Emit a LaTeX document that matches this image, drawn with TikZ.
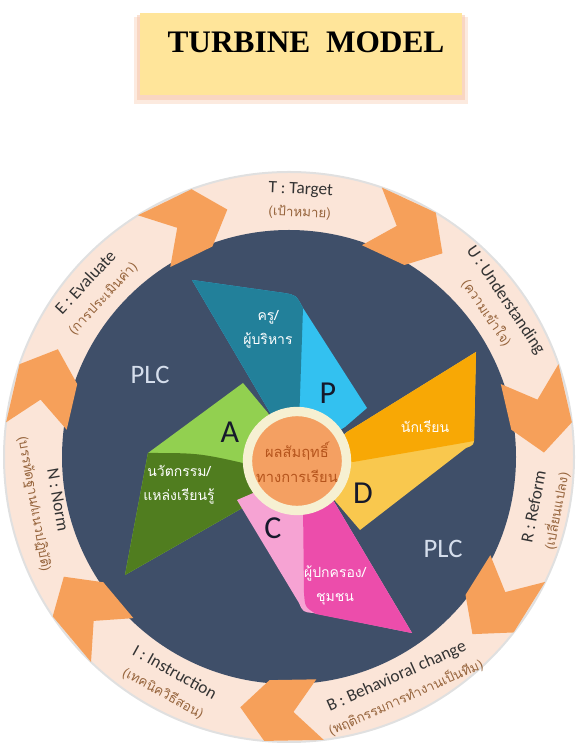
\documentclass[tikz,border=0pt]{standalone}
\usepackage{fontspec}
\setmainfont{Carlito}
\newfontfamily\thaifont[Script=Thai]{Loma}
\newfontfamily\titlefont{Liberation Serif}
\usetikzlibrary{calc}

\definecolor{titleyellow}{HTML}{FFE59A}
\definecolor{titleshadow}{HTML}{F6C2A4}
\definecolor{ringpeach}{HTML}{FBE5D8}
\definecolor{discblue}{HTML}{3F4F69}
\definecolor{arroworange}{HTML}{F6A05A}
\definecolor{ringgray}{HTML}{333333}
\definecolor{thaibrown}{HTML}{96643C}
\definecolor{plcblue}{HTML}{D5DEEC}
\definecolor{tealdark}{HTML}{22809A}
\definecolor{cyanlight}{HTML}{33C1F0}
\definecolor{greenlight}{HTML}{92D050}
\definecolor{greendark}{HTML}{507D1F}
\definecolor{pinklight}{HTML}{F6A3D3}
\definecolor{magenta}{HTML}{EC4DAB}
\definecolor{orangedark}{HTML}{F8A805}
\definecolor{yellowlight}{HTML}{F9C84E}
\definecolor{centerorange}{HTML}{F4A062}
\definecolor{centercream}{HTML}{F6F0D2}
\definecolor{centertext}{HTML}{B5541C}
\definecolor{lettercol}{HTML}{16192B}

\newcommand{\thaisub}[1]{{\thaifont\fontsize{10}{12}\selectfont\color{thaibrown}#1}}

\begin{document}
\begin{tikzpicture}[x=0.75pt, y=0.75pt,
  ringtext/.style={align=center, text=ringgray, font=\fontsize{13}{17}\selectfont},
  bladetext/.style={align=center, text=white, font=\thaifont\fontsize{10.5}{18}\selectfont},
  letter/.style={text=lettercol, font=\fontsize{24}{24}\selectfont},
  plc/.style={text=plcblue, font=\fontsize{20}{20}\selectfont}]
  \useasboundingbox (0,0) rectangle (575,745);

  % title box
  \fill[titleshadow, opacity=0.35] (134,641) rectangle (468,728);
  \fill[titleshadow, opacity=0.5] (137,645) rectangle (465,730);
  \fill[titleyellow] (140,650) rectangle (462,732);
  \node[anchor=base, font=\titlefont\bfseries\fontsize{23.5}{28}\selectfont] (title) at (306,692) {TURBINE\ \ MODEL};

  % ring, disc and arrows
  \begin{scope}[shift={(289,288)}]
    \fill[ringpeach] (0,0) circle (285);
    \draw[black!12, line width=1.5] (0,0) circle (285);
    \fill[discblue] (0,0) circle (227);
    \foreach \a in {113,62,10,-35,-92,-143,164}
      \fill[arroworange] (\a+9:285) -- (\a-3:285) -- (\a-9:255) -- (\a-3:224) -- (\a+9:224) -- (\a+3:255) -- cycle;

    \node[ringtext, rotate=-2.5] (lblT) at (87.5:256) {T : Target\\\thaisub{(เป้าหมาย)}};
    \node[ringtext, rotate=-56] (lblU) at (36:256) {U : Understanding\\\thaisub{(ความเข้าใจ)}};
    \node[ringtext, rotate=79] (lblR) at (-11.5:262) {R : Reform\\\thaisub{(เปลี่ยนแปลง)}};
    \node[ringtext, rotate=24] (lblB) at (-64:256) {B : Behavioral change\\\thaisub{(พฤติกรรมการทำงานเป็นทีม)}};
    \node[ringtext, rotate=-29] (lblI) at (-118:256) {I : Instruction\\\thaisub{(เทคนิควิธีสอน)}};
    \node[ringtext, rotate=-80] (lblN) at (-169.5:248) {N : Norm\\\thaisub{(บรรทัดฐาน/แนวปฏิบัติ)}};
    \node[ringtext, rotate=47] (lblE) at (139.5:256) {E : Evaluate\\\thaisub{(การประเมินค่า)}};
  \end{scope}

  \node[plc] (plcL) at (150,370) {PLC};
  \node[plc] (plcR) at (443,196) {PLC};

  % blade P
  \fill[cyanlight] (192,465) -- (284,452) .. controls (296,450) .. (303,437) -- (367,337) -- (345,318) -- (300,290) -- (282,312) -- cycle;
  \fill[tealdark] (192,465) -- (284,452) .. controls (296,450) .. (303,437) -- (299,320) -- (282,312) -- cycle;
  % blade A
  \fill[greenlight] (148,292) -- (243,362) -- (268,332) -- (295,290) -- (265,250) -- (125,170) -- cycle;
  \fill[greendark] (148,292) .. controls (200,292) .. (260,278) -- (265,250) -- (125,170) -- cycle;
  % blade C
  \fill[pinklight] (237,245) -- (299,142) .. controls (303,133) .. (313,132) -- (412,112) -- (333,245) -- (295,270) -- cycle;
  \fill[magenta] (303,240) -- (304,152) .. controls (305,138) .. (316,131) -- (412,112) -- (333,245) -- cycle;
  % blade D
  \fill[yellowlight] (347,313) -- (476,393) -- (474,308) .. controls (474,300) .. (466,297) -- (360,215) -- (330,250) -- (320,290) -- cycle;
  \fill[orangedark] (347,313) -- (476,393) -- (474,304) .. controls (440,298) .. (353,283) -- (330,290) -- cycle;

  \node[bladetext] (txtP) at (268,416) {ครู/\\ผู้บริหาร};
  \node[bladetext] (txtA) at (179,260) {นวัตกรรม/\\แหล่งเรียนรู้};
  \node[bladetext] (txtC) at (335,160) {ผู้ปกครอง/\\ชุมชน};
  \node[bladetext] (txtD) at (425,318) {นักเรียน};

  \node[letter] (letP) at (328,352) {P};
  \node[letter] (letA) at (230,313) {A};
  \node[letter] (letC) at (273,217) {C};
  \node[letter] (letD) at (363,252) {D};

  % centre
  \filldraw[fill=centerorange, draw=centercream, line width=7] (297,284) circle (49.5);
  \node[align=center, text=centertext, font=\thaifont\fontsize{11}{19}\selectfont] (core) at (297,283) {ผลสัมฤทธิ์\\ทางการเรียน};
\end{tikzpicture}
\end{document}
